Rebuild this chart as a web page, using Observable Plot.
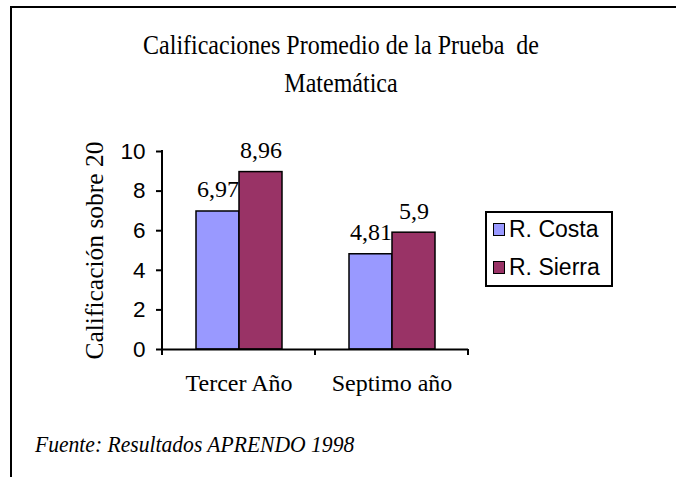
<!DOCTYPE html>
<html>
<head>
<meta charset="utf-8">
<script src="https://cdn.jsdelivr.net/npm/d3@7"></script>
<script src="https://cdn.jsdelivr.net/npm/@observablehq/plot@0.6"></script>
<style>
  body { margin: 0; background: #fff; }
  #wrap { position: relative; width: 676px; height: 477px; overflow: hidden; background: #fff; }
  #border { position: absolute; left: 10px; top: 6px; width: 720px; height: 620px; border: 2px solid #000; box-sizing: border-box; }
  #title { position: absolute; left: 0; width: 682px; top: 31px; text-align: center; font-family: "Liberation Serif", "Times New Roman", serif; font-size: 24px; line-height: 33px; white-space: pre; color: #000; transform: scaleY(1.15); transform-origin: 50% 50%; }
  #chart { position: absolute; left: 0; top: 110px; }
  #legend { position: absolute; left: 485px; top: 211px; width: 128px; height: 76px; border: 2px solid #000; box-sizing: border-box; font-family: "Liberation Sans", Arial, sans-serif; font-size: 23px; color: #000; }
  .item { position: absolute; left: 6px; height: 26px; line-height: 26px; white-space: nowrap; }
  .sw { display: inline-block; width: 10px; height: 11px; border: 1.5px solid #000; margin-right: 4px; vertical-align: 1px; }
  #caption { position: absolute; left: 35px; top: 432px; font-family: "Liberation Serif", "Times New Roman", serif; font-style: italic; font-size: 21.6px; color: #000; white-space: nowrap; transform: scaleY(1.1); transform-origin: 0 50%; }
</style>
</head>
<body>
<div id="wrap">
  <div id="border"></div>
  <div id="title"></div>
  <div id="chart"></div>
  <div id="legend"></div>
  <div id="caption"></div>
</div>
<script>
const categories = ["Tercer Año", "Septimo año"];
const series = ["R. Costa", "R. Sierra"];
const costa = [6.97, 4.81];
const sierra = [8.96, 5.9];
const yTicks = [0, 2, 4, 6, 8, 10];
const colors = ["#9999FF", "#993366"];
const titleLines = ["Calificaciones Promedio de la Prueba  de", "Matemática"];
const yLabel = "Calificación sobre 20";
const captionText = "Fuente: Resultados APRENDO 1998";

const data = categories.flatMap((c, i) => [
  {cat: c, serie: series[0], value: costa[i]},
  {cat: c, serie: series[1], value: sierra[i]}
]);
const fmt = v => String(v).replace(".", ",");
const serif = "Liberation Serif, Times New Roman, serif";

document.getElementById("title").textContent = titleLines.join("\n");
document.getElementById("caption").textContent = captionText;
const legend = document.getElementById("legend");
series.forEach((s, i) => {
  const it = document.createElement("div");
  it.className = "item";
  it.style.top = (3 + i * 38) + "px";
  const sw = document.createElement("span");
  sw.className = "sw";
  sw.style.background = colors[i];
  it.appendChild(sw);
  it.appendChild(document.createTextNode(s));
  legend.appendChild(it);
});

const plot = Plot.plot({
  width: 480,
  height: 300,
  marginLeft: 162,
  marginRight: 12,
  marginTop: 41,
  marginBottom: 61,
  style: {fontFamily: "Liberation Sans, Arial, sans-serif", fontSize: "22px", color: "#000", background: "transparent", overflow: "visible"},
  fx: {domain: categories, padding: 0, label: null},
  x: {domain: series, paddingInner: 0, paddingOuter: 0.75, axis: null},
  y: {domain: [0, 10], label: null, axis: null},
  color: {domain: series, range: colors},
  marks: [
    Plot.barY(data, {fx: "cat", x: "serie", y: "value", fill: "serie", stroke: "#000", strokeWidth: 1.5}),
    Plot.text(data, {fx: "cat", x: "serie", y: "value", text: d => fmt(d.value), lineAnchor: "bottom", dy: -14, fontFamily: serif, fontSize: 24, fill: "#000"}),
    Plot.ruleY([0], {stroke: "#000", strokeWidth: 2}),
    Plot.axisY({ticks: yTicks, tickSize: 6, tickPadding: 11, strokeWidth: 2, fontSize: 22.5, label: null, tickFormat: d => String(d)}),
    Plot.axisFx({anchor: "bottom", tickSize: 0, tickPadding: 24, fontFamily: serif, fontSize: 24, label: null}),
    Plot.text([yLabel], {frameAnchor: "left", rotate: -90, textAnchor: "middle", dx: -68, facetAnchor: "left", fontFamily: serif, fontSize: 25.5, fill: "#000"})
  ]
});
document.getElementById("chart").appendChild(plot);

// y-axis line and category boundary ticks, placed through Plot's scales
const svg = plot.tagName.toLowerCase() === "svg" ? plot : plot.querySelector("svg");
const fxs = plot.scale("fx");
const ys = plot.scale("y");
const y0 = ys.apply(0), yTop = ys.apply(d3.max(yTicks));
const bounds = categories.map(c => fxs.apply(c)).concat([fxs.apply(categories[categories.length - 1]) + fxs.bandwidth]);
const g = d3.select(svg).append("g").attr("stroke", "#000").attr("stroke-width", 2);
g.append("line").attr("x1", bounds[0]).attr("x2", bounds[0]).attr("y1", yTop - 1).attr("y2", y0 + 1);
bounds.forEach(b => g.append("line").attr("x1", b).attr("x2", b).attr("y1", y0).attr("y2", y0 + 6));
</script>
</body>
</html>
